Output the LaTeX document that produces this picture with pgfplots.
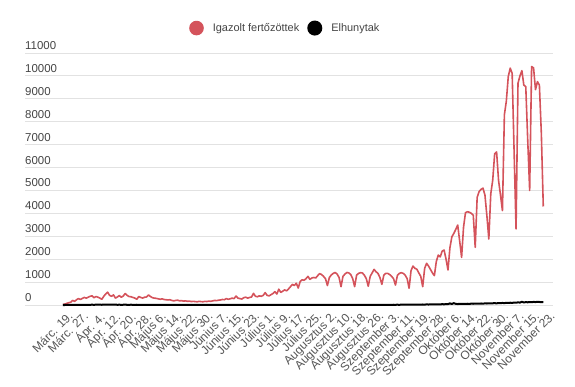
\documentclass[border=0pt]{standalone}
\usepackage{fontspec}
\setmainfont{Liberation Sans}
\usepackage{pgfplots}
\usepackage{pgfplotstable}
\pgfplotsset{compat=1.18}
\definecolor{redline}{HTML}{D4535B}
\definecolor{gridc}{HTML}{E2E2E2}
\definecolor{lab}{HTML}{555555}
\definecolor{ylab}{HTML}{444444}

\pgfplotstableread{
i c d
0 20 0
1 40 0
2 70 1
3 100 0
4 120 1
5 200 2
6 160 1
7 230 3
8 280 2
9 240 4
10 290 5
11 330 6
12 300 8
13 340 7
14 380 10
15 400 12
16 320 9
17 370 13
18 340 11
19 300 14
20 250 10
21 380 15
22 480 12
23 560 14
24 420 11
25 380 13
26 440 12
27 300 14
28 350 10
29 410 12
30 340 9
31 390 11
32 500 13
33 420 10
34 370 8
35 360 12
36 330 9
37 300 10
38 250 11
39 370 8
40 330 10
41 300 9
42 340 7
43 350 8
44 440 6
45 370 7
46 320 5
47 300 6
48 290 8
49 270 4
50 250 5
51 270 3
52 240 4
53 230 6
54 220 3
55 230 2
56 200 4
57 180 3
58 200 2
59 210 3
60 180 2
61 190 1
62 170 2
63 180 1
64 160 0
65 170 2
66 150 1
67 160 3
68 150 1
69 140 0
70 160 2
71 150 1
72 140 1
73 160 0
74 150 2
75 170 1
76 160 0
77 180 1
78 200 2
79 190 1
80 210 0
81 220 1
82 240 0
83 230 2
84 280 1
85 250 0
86 270 1
87 300 1
88 280 0
89 390 2
90 300 1
91 280 0
92 260 1
93 320 2
94 340 0
95 300 1
96 330 0
97 350 1
98 510 2
99 380 0
100 360 1
101 400 0
102 380 1
103 420 0
104 540 2
105 420 1
106 400 0
107 450 1
108 500 0
109 580 1
110 480 2
111 690 0
112 550 1
113 600 0
114 660 1
115 620 0
116 700 2
117 800 1
118 900 0
119 850 1
120 950 0
121 740 2
122 1030 1
123 1100 0
124 1080 1
125 1150 2
126 1250 1
127 1120 0
128 1180 1
129 1200 2
130 1180 1
131 1280 0
132 1370 2
133 1330 1
134 1250 3
135 1150 1
136 850 2
137 1200 1
138 1310 3
139 1380 2
140 1420 1
141 1350 2
142 1200 1
143 800 3
144 1250 2
145 1350 1
146 1420 2
147 1400 4
148 1330 3
149 1150 2
150 800 4
151 1300 3
152 1380 5
153 1410 4
154 1400 3
155 1300 5
156 1150 4
157 820 6
158 1250 5
159 1400 4
160 1555 7
161 1450 6
162 1380 8
163 1200 5
164 900 7
165 1300 9
166 1380 8
167 1380 10
168 1330 9
169 1250 7
170 1150 11
171 870 10
172 1300 12
173 1380 9
174 1410 14
175 1380 11
176 1300 13
177 1150 15
178 730 12
179 1500 16
180 1700 14
181 1600 18
182 1560 15
183 1400 20
184 1250 17
185 800 22
186 1600 19
187 1820 25
188 1700 21
189 1550 27
190 1400 24
191 1280 30
192 1900 26
193 2180 32
194 2100 28
195 2350 35
196 2400 31
197 2000 38
198 1530 40
199 2500 70
200 2980 45
201 3125 80
202 3300 50
203 3490 42
204 2800 48
205 2080 45
206 3400 52
207 4030 48
208 4070 55
209 4050 50
210 4000 58
211 3920 54
212 2520 60
213 4700 57
214 4950 62
215 5050 66
216 5100 60
217 4800 70
218 3900 65
219 2880 72
220 4850 68
221 5450 75
222 6600 80
223 6680 72
224 5440 85
225 4800 78
226 4120 90
227 8300 82
228 8900 95
229 9970 88
230 10340 100
231 10110 92
232 6700 108
233 3320 98
234 9680 115
235 10000 105
236 10230 140
237 9600 110
238 9530 125
239 7200 118
240 5000 130
241 10410 120
242 10350 135
243 9400 128
244 9750 140
245 9600 132
246 7500 125
247 4300 120
}\datatable

\begin{document}
\begin{tikzpicture}
\useasboundingbox (0,0) rectangle (575bp,387bp);
\begin{axis}[
  at={(25bp,82bp)}, anchor=south west,
  scale only axis, width=528bp, height=252bp,
  xmin=-19.5, xmax=252, ymin=0, ymax=11000,
  enlargelimits=false, clip=false,
  axis line style={draw=none},
  tick style={draw=none},
  ymajorgrids, grid style={gridc, line width=0.9bp},
  ytick={0,1000,...,11000},
  scaled y ticks=false,
  /pgf/number format/1000 sep={},
  /pgf/number format/assume math mode=true,
  yticklabel style={anchor=base west, inner sep=0pt, yshift=3.5bp,
     font=\fontsize{11.5}{13}\selectfont, text=ylab},
  xtick={0,8,...,248},
  xticklabels={Márc. 19., Márc. 27., Ápr. 4., Ápr. 12., Ápr. 20., Ápr. 28.,
    Május 6., Május 14., Május 22., Május 30., Június 7., Június 15., Június 23.,
    Július 1., Július 9., Július 17., Július 25., Augusztus 2., Augusztus 10.,
    Augusztus 18., Augusztus 26., Szeptember 3., Szeptember 11., Szeptember 19.,
    Szeptember 28., Október 6., Október 14., Október 22., Október 30.,
    November 7., November 15., November 23.},
  xticklabel style={rotate=45, anchor=north east, inner sep=1bp, yshift=-6bp,
     font=\fontsize{12}{14}\selectfont, text=lab},
  legend style={at={(0.493,1.099)}, anchor=center, draw=none, fill=none,
     font=\fontsize{11}{13}\selectfont, text=ylab,
     /tikz/every odd column/.append style={column sep=7bp},
     /tikz/every even column/.append style={column sep=6bp}},
  legend columns=2,
  legend image code/.code={\fill[#1] (0bp,0bp) circle (6.5bp);},
]
\addplot[color=redline, line width=1.6bp, line join=round] table[x=i, y=c] {\datatable};
\addplot[color=black, line width=2bp, line join=round] table[x=i, y=d] {\datatable};
\legend{Igazolt fertőzöttek, Elhunytak}
\end{axis}
\end{tikzpicture}
\end{document}
